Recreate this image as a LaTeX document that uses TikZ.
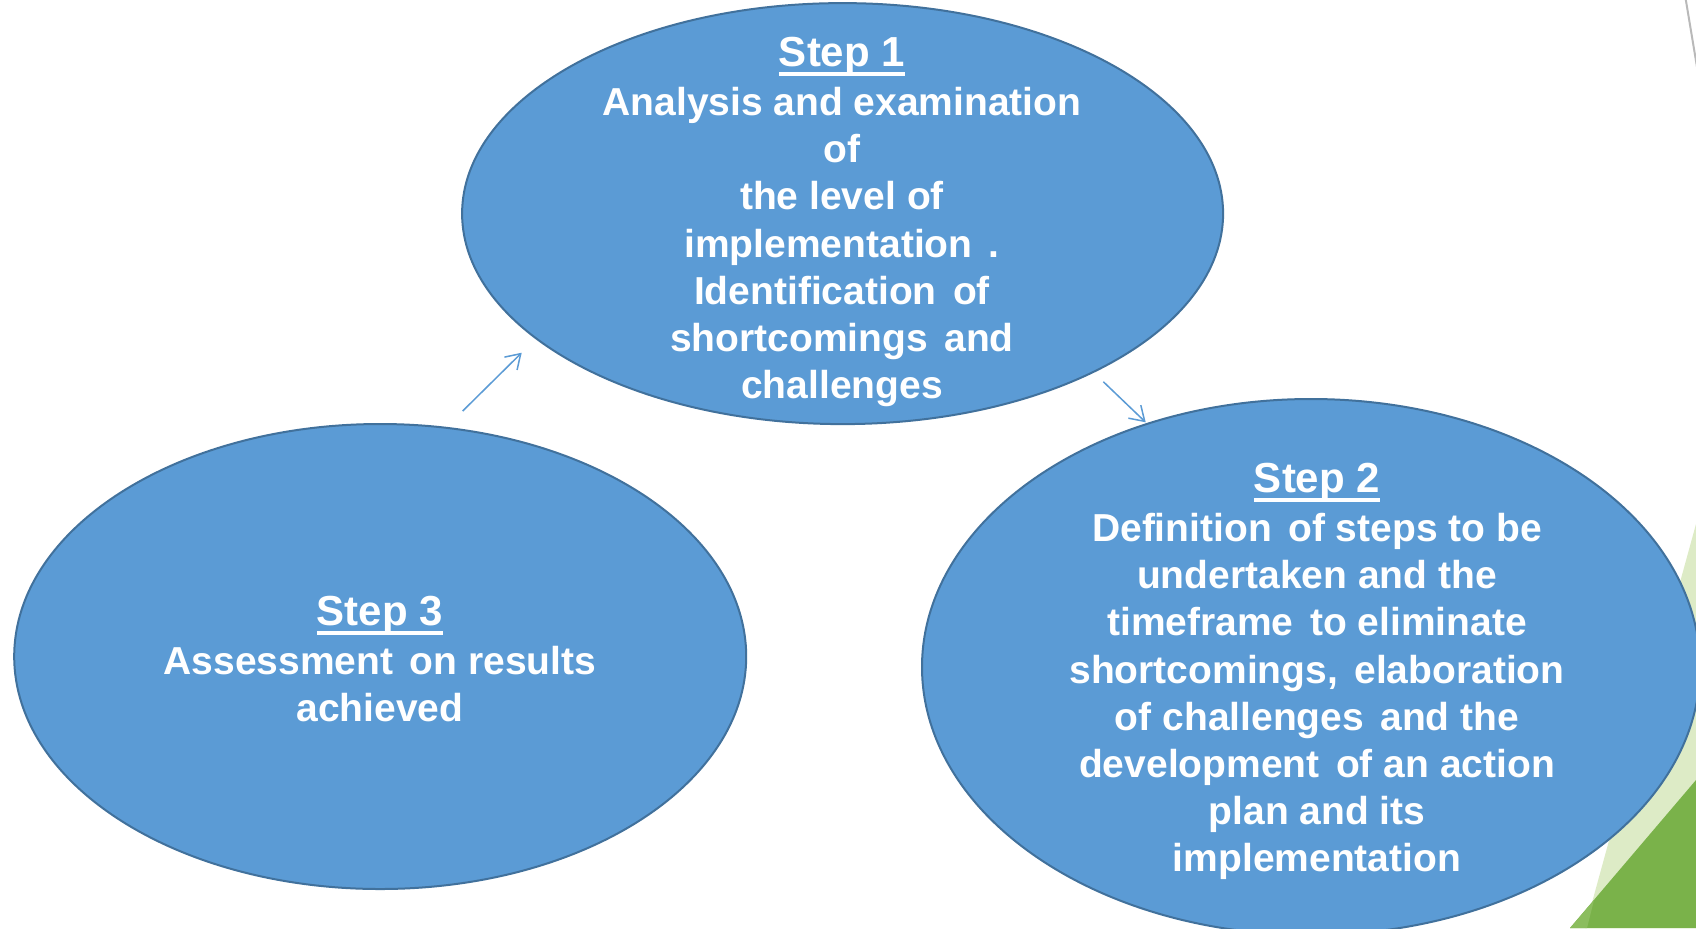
\documentclass[tikz,border=0pt]{standalone}
\usepackage{fontspec}
\setmainfont{Liberation Sans}
\usetikzlibrary{shapes.geometric,arrows.meta}
\definecolor{ellfill}{HTML}{5B9BD5}
\definecolor{elldraw}{HTML}{41719C}
\definecolor{lightgr}{HTML}{DDEBC6}
\definecolor{darkgr}{HTML}{7AB24A}
\definecolor{midgr}{HTML}{8BBD5E}
\newcommand\wsp{\hspace{0.42em}}
\newcommand\steptitle[1]{{\fontsize{21}{24}\selectfont\setbox0\hbox{#1}\dp0=0pt\leavevmode\vtop{\box0\kern3pt\hrule height 1.8pt}}}
\tikzset{
  stepell/.style={ellipse, fill=ellfill, draw=elldraw, line width=1pt, inner sep=0pt, outer sep=0pt},
  steptext/.style={text=white, align=center, inner sep=0pt,
    font=\fontsize{19.5}{23.6}\selectfont\bfseries},
  flowarrow/.style={draw=ellfill, line width=0.75pt, -{Straight Barb[length=7pt,width=9pt]}}
}
\begin{document}
\begin{tikzpicture}[x=0.5pt,y=-0.5pt]
\useasboundingbox (0,0) rectangle (1696,928);
\begin{scope}
\clip (0,0) rectangle (1696,928);
\fill[white] (0,0) rectangle (1696,928);
% decoration at right edge
\draw[gray!55, line width=1pt] (1684.5,-8) -- (1697.5,70);
\fill[lightgr] (1696,524) -- (1585,928) -- (1696,928) -- cycle;
\fill[darkgr] (1696,780) -- (1570,928) -- (1696,928) -- cycle;
\fill[midgr] (1594,900) -- (1570,928) -- (1587,928) -- cycle;
% ellipses
\node[stepell, minimum width=761pt/2, minimum height=421pt/2] (e1) at (842.6,213.6) {};
\node[stepell, minimum width=732pt/2, minimum height=465pt/2] (e3) at (380.2,656.5) {};
\node[stepell, minimum width=778pt/2, minimum height=536pt/2] (e2) at (1311,667) {};
\end{scope}
% texts
\node[steptext] (t1) at (842,222) {\steptitle{Step 1}\\[0.9pt]Analysis and examination\\of\\the level of\\implementation\wsp.\\Identification\wsp of\\shortcomings\wsp and\\challenges};
\node[steptext] (t3) at (380,659) {\steptitle{Step 3}\\[0.9pt]Assessment\wsp on results\\achieved};
\node[steptext] (t2) at (1317,671.5) {\steptitle{Step 2}\\[0.9pt]Definition\wsp of steps to be\\undertaken and the\\timeframe\wsp to eliminate\\shortcomings,\wsp elaboration\\of challenges\wsp and the\\development\wsp of an action\\plan and its\\implementation};
% arrows
\coordinate (a1s) at (462.7,411);
\coordinate (a1e) at (521.7,352.7);
\coordinate (a2s) at (1103.3,381.7);
\coordinate (a2e) at (1145.7,422.3);
\draw[flowarrow] (a1s) -- (a1e);
\draw[flowarrow] (a2s) -- (a2e);
\end{tikzpicture}
\end{document}
